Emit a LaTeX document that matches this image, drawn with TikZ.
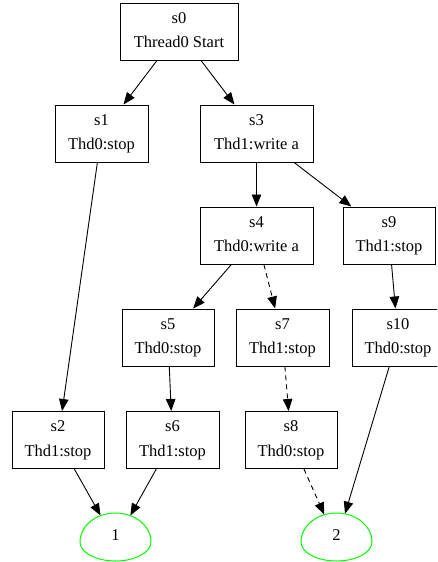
\documentclass[tikz,border=0pt]{standalone}
\usepackage{fontspec}
\setmainfont{Liberation Serif}
\usetikzlibrary{arrows.meta,shapes.geometric}
\tikzset{
  stbox/.style={draw=black, line width=1pt, rectangle, inner sep=0pt, minimum height=57pt},
  lab/.style={anchor=base, inner sep=0pt, font=\fontsize{16.5}{20}\selectfont},
  edge/.style={draw=black, line width=0.9pt, -{Triangle[length=12pt,width=9.5pt]}},
  dashededge/.style={edge, dash pattern=on 5pt off 4pt},
  endpt/.style={ellipse, draw=none, inner sep=0pt, minimum width=71pt, minimum height=58pt},
  egg/.style={draw={rgb,255:red,0;green,255;blue,0}, line width=1pt}
}
\newcommand\statebox[6]{%
  \node[stbox, minimum width=#4pt] (#1) at (#2,#3) {};
  \node[lab] (#1a) at (#2,#3-8.2) {#5};
  \node[lab] (#1b) at (#2,#3+16.3) {#6};
}
\newcommand\finalstate[3]{%
  \node[endpt] (#1) at (#2,#3) {};
  \draw[egg] (#2-35.5,#3) arc[start angle=180,end angle=360,x radius=35.5,y radius=29]
             arc[start angle=0,end angle=180,x radius=35.5,y radius=19];
}
\begin{document}
\begin{tikzpicture}[x=1pt,y=-1pt]
\useasboundingbox (0,0) rectangle (437,562);
\fill[white] (0,0) rectangle (437,562);
\clip (0,0) rectangle (437,562);

\statebox{s0}{179}{31.5}{118}{s0}{Thread0 Start}
\statebox{s1}{101.5}{133.5}{93}{s1}{Thd0:stop}
\statebox{s3}{256.5}{133.5}{113}{s3}{Thd1:write a}
\statebox{s4}{256.5}{235.5}{113}{s4}{Thd0:write a}
\statebox{s9}{389}{235.5}{92}{s9}{Thd1:stop}
\statebox{s5}{168}{337.5}{92}{s5}{Thd0:stop}
\statebox{s7}{282.5}{337.5}{93}{s7}{Thd1:stop}
\statebox{s10}{398}{337.5}{92}{s10}{Thd0:stop}
\statebox{s2}{58}{440}{92}{s2}{Thd1:stop}
\statebox{s6}{172.5}{440}{93}{s6}{Thd1:stop}
\statebox{s8}{291}{440}{92}{s8}{Thd0:stop}

\finalstate{e1}{115.5}{542}
\finalstate{e2}{336.5}{542}
\node[lab] (e1t) at (115.5,540) {1};
\node[lab] (e2t) at (336.5,540) {2};

\draw[edge] (s0) -- (s1);
\draw[edge] (s0) -- (s3);
\draw[edge] (s1) -- (s2);
\draw[edge] (s3) -- (s4);
\draw[edge] (s3) -- (s9);
\draw[edge] (s4) -- (s5);
\draw[dashededge] (s4) -- (s7);
\draw[edge] (s9) -- (s10);
\draw[edge] (s5) -- (s6);
\draw[dashededge] (s7) -- (s8);
\draw[edge] (s10) -- (e2);
\draw[edge] (s2) -- (e1);
\draw[edge] (s6) -- (e1);
\draw[dashededge] (s8) -- (e2);
\end{tikzpicture}
\end{document}
